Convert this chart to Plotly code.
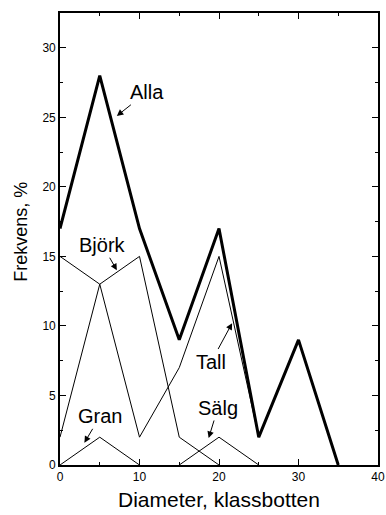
import plotly.graph_objects as go

x_vals = [0, 5, 10, 15, 20, 25, 30, 35]
alla = [17, 28, 17, 9, 17, 2, 9, 0]
bjork_x = [0, 5, 10, 15, 20]
bjork = [15, 13, 15, 2, 0]
tall_x = [0, 5, 10, 15, 20, 25]
tall = [2, 13, 2, 7, 15, 2]
gran_x = [0, 5, 10]
gran = [0, 2, 0]
salg_x = [15, 20, 25]
salg = [0, 2, 0]

# annotation: (label, text_x, text_y, head_x, head_y)
labels = [
    ("Alla", 10.9, 26.8, 7.15, 25.1),
    ("Björk", 5.36, 15.8, 7.15, 14.0),
    ("Gran", 5.04, 3.5, 3.07, 1.6),
    ("Tall", 19.04, 7.44, 21.65, 10.2),
    ("Sälg", 19.86, 4.1, 18.7, 1.94),
]

FONT = "Liberation Sans, Arial, sans-serif"
fig = go.Figure()
thin = dict(color="black", width=1)
fig.add_trace(go.Scatter(x=bjork_x, y=bjork, mode="lines", line=thin))
fig.add_trace(go.Scatter(x=tall_x, y=tall, mode="lines", line=thin))
fig.add_trace(go.Scatter(x=gran_x, y=gran, mode="lines", line=thin))
fig.add_trace(go.Scatter(x=salg_x, y=salg, mode="lines", line=thin))
fig.add_trace(go.Scatter(x=x_vals, y=alla, mode="lines", line=dict(color="black", width=3)))

for txt, tx, ty, hx, hy in labels:
    fig.add_annotation(x=hx, y=hy, ax=tx, ay=ty, axref="x", ayref="y", xref="x", yref="y",
                       text=txt, showarrow=True, arrowhead=2, arrowsize=1.3, arrowwidth=1,
                       arrowcolor="black", standoff=0, startstandoff=0,
                       font=dict(family=FONT, size=20, color="black"))

fig.add_annotation(text="Diameter, klassbotten", xref="paper", yref="paper", x=0.5, y=-0.107,
                   xanchor="center", yanchor="bottom", showarrow=False,
                   font=dict(family=FONT, size=21, color="black"))
fig.add_annotation(text="Frekvens, %", xref="paper", yref="paper", x=-0.1226, y=0.516,
                   xanchor="center", yanchor="middle", showarrow=False, textangle=-90,
                   font=dict(family=FONT, size=18, color="black"))

axis_common = dict(showline=True, linecolor="black", linewidth=1.7, mirror="ticks",
                   ticks="inside", ticklen=6, tickwidth=1, tickcolor="black",
                   showgrid=False, zeroline=False, automargin=False,
                   tickfont=dict(family=FONT, size=12, color="black"))
fig.update_xaxes(range=[0, 40], dtick=10, tick0=0,
                 minor=dict(ticks="inside", ticklen=3, dtick=5, tickcolor="black", showgrid=False),
                 **axis_common)
fig.update_yaxes(range=[0, 32.5], dtick=5, tick0=0,
                 minor=dict(ticks="inside", ticklen=3, dtick=2.5, tickcolor="black", showgrid=False),
                 **axis_common)
fig.update_layout(width=386, height=515, margin=dict(l=60, r=8, t=13, b=50),
                  plot_bgcolor="white", paper_bgcolor="white", showlegend=False)
fig.write_html("out.html", config={"displayModeBar": False},
               post_script="document.body.style.margin='0';document.body.style.overflow='hidden';")
